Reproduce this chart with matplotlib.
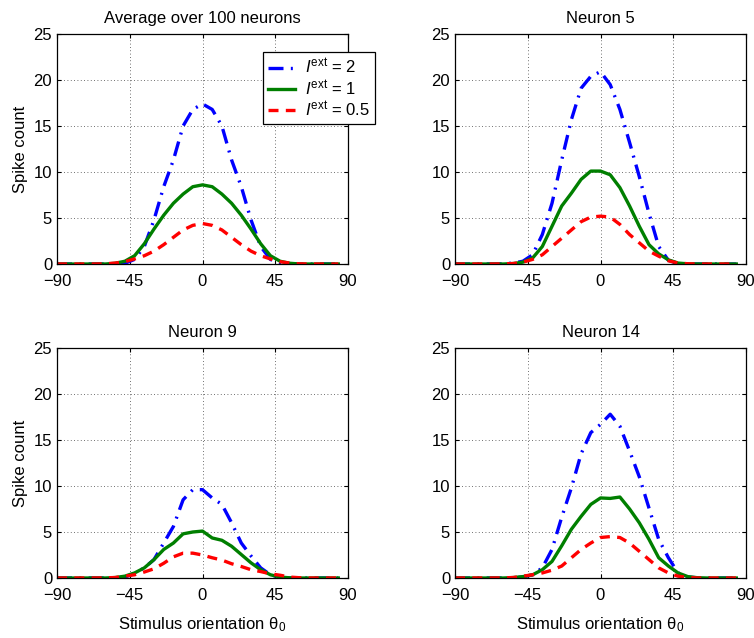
import numpy as np
import matplotlib
matplotlib.use("Agg")
import matplotlib.pyplot as plt

plt.rcParams['font.family'] = ['Liberation Sans', 'DejaVu Sans']
plt.rcParams['mathtext.fontset'] = 'custom'
plt.rcParams['mathtext.rm'] = 'Liberation Sans'
plt.rcParams['mathtext.it'] = 'Liberation Sans:italic'

# stimulus orientations, 6 deg steps
theta = list(range(-90, 90, 6))

titles = ["Average over 100 neurons", "Neuron 5", "Neuron 9", "Neuron 14"]
labels = [r'$I^{\mathrm{ext}}$ = 2', r'$I^{\mathrm{ext}}$ = 1', r'$I^{\mathrm{ext}}$ = 0.5']

#            -90 -84 -78 -72 -66 -60  -54   -48   -42  -36  -30  -24  -18   -12   -6    0     6     12    18    24   30   36   42    48    54   60   66 72 78 84
avg_i2   = [0, 0, 0, 0, 0, 0,    0.02, 0.08, 0.5, 1.9, 4.8, 8.4, 11.3, 15.0, 16.8, 17.4, 16.8, 15.0, 11.3, 8.4, 4.8, 1.9, 0.5,  0.08, 0.02, 0,   0, 0, 0, 0]
avg_i1   = [0, 0, 0, 0, 0, 0,    0.08, 0.3,  0.9, 2.2, 3.8, 5.3, 6.6,  7.6,  8.4,  8.6,  8.4,  7.6,  6.6,  5.3, 3.8, 2.2, 0.9,  0.3,  0.08, 0,   0, 0, 0, 0]
avg_i05  = [0, 0, 0, 0, 0, 0.02, 0.1,  0.25, 0.55, 0.9, 1.4, 2.1, 2.9, 3.7,  4.2,  4.4,  4.2,  3.7,  2.9,  2.1, 1.4, 0.9, 0.55, 0.25, 0.1,  0.02, 0, 0, 0, 0]

n5_i2    = [0, 0, 0, 0, 0, 0.02, 0.1,  0.3,  1.0, 3.2, 6.6, 11.3, 15.7, 19.1, 20.4, 20.9, 19.5, 16.8, 13.2, 9.5, 5.5, 1.9, 0.4, 0.05, 0, 0, 0, 0, 0, 0]
n5_i1    = [0, 0, 0, 0, 0, 0,    0.05, 0.2,  0.65, 1.9, 4.1, 6.3, 7.7, 9.2, 10.1, 10.1, 9.7, 8.3, 6.3, 4.1, 2.1, 1.1, 0.45, 0.1, 0.02, 0, 0, 0, 0, 0]
n5_i05   = [0, 0, 0, 0, 0, 0.02, 0.05, 0.2,  0.5, 1.0, 1.9, 2.8, 3.7, 4.6, 5.1, 5.2, 5.1, 4.3, 3.2, 2.3, 1.4, 0.85, 0.35, 0.1, 0.03, 0, 0, 0, 0, 0]

n9_i2    = [0, 0, 0, 0, 0, 0,    0.02, 0.1,  0.5, 1.1, 2.0, 3.8, 5.6, 8.5, 9.6, 9.6, 8.7, 8.0, 6.0, 3.8, 2.4, 1.1, 0.35, 0.05, 0, 0, 0, 0, 0, 0]
n9_i1    = [0, 0, 0, 0, 0, 0,    0.05, 0.2,  0.55, 1.1, 2.0, 3.1, 3.8, 4.8, 5.0, 5.1, 4.35, 4.1, 3.45, 2.55, 1.65, 0.9, 0.35, 0.1, 0.02, 0, 0, 0, 0, 0]
n9_i05   = [0, 0, 0, 0, 0, 0.02, 0.05, 0.2,  0.35, 0.65, 1.0, 1.6, 2.3, 2.7, 2.7, 2.5, 2.2, 1.95, 1.55, 1.25, 0.9, 0.7, 0.45, 0.3, 0.1, 0.03, 0, 0, 0, 0]

n14_i2   = [0, 0, 0, 0, 0, 0,    0.02, 0.1,  0.35, 1.1, 3.1, 6.6, 9.8, 13.5, 15.8, 16.7, 17.8, 16.5, 13.8, 11.0, 7.6, 4.2, 2.2, 0.55, 0.1, 0.02, 0, 0, 0, 0]
n14_i1   = [0, 0, 0, 0, 0, 0,    0.05, 0.15, 0.35, 0.9, 1.8, 3.5, 5.3, 6.7, 8.0, 8.7, 8.65, 8.8, 7.5, 6.0, 4.2, 2.2, 1.3, 0.55, 0.15, 0.03, 0, 0, 0, 0]
n14_i05  = [0, 0, 0, 0, 0, 0.02, 0.05, 0.2,  0.35, 0.55, 0.85, 1.3, 2.2, 3.1, 3.8, 4.4, 4.5, 4.4, 3.8, 2.9, 2.0, 1.1, 0.55, 0.2, 0.05, 0, 0, 0, 0, 0]

panels = [(avg_i2, avg_i1, avg_i05), (n5_i2, n5_i1, n5_i05),
          (n9_i2, n9_i1, n9_i05), (n14_i2, n14_i1, n14_i05)]

W, H = 754, 638
fig = plt.figure(figsize=(W / 100, H / 100), dpi=100)
boxes = [(57, 34), (455, 34), (57, 348), (455, 348)]
aw, ah = 291, 230
fs = 12

for k, (series, title, (px, py)) in enumerate(zip(panels, titles, boxes)):
    ax = fig.add_axes([px / W, 1 - (py + ah) / H, aw / W, ah / H])
    i2, i1, i05 = series
    ax.plot(theta, i2, color='#0000ff', lw=2.4, ls=(0, (4.5, 2.2, 0.6, 2.2)), label=labels[0])
    ax.plot(theta, i1, color='#007f00', lw=2.4, ls='-', label=labels[1])
    ax.plot(theta, i05, color='#ff0000', lw=2.4, ls=(0, (3.0, 2.2)), label=labels[2])
    ax.set_xlim(-90, 90)
    ax.set_ylim(0, 25)
    ax.set_xticks([-90, -45, 0, 45, 90])
    ax.set_xticklabels(['\u221290', '\u221245', '0', '45', '90'])
    ax.set_yticks([0, 5, 10, 15, 20, 25])
    ax.grid(True, ls=(0, (1, 3)), color='#404040', lw=0.6)
    ax.tick_params(direction='in', top=True, right=True, labelsize=fs, length=3)
    ax.tick_params(axis='x', pad=7)
    for sp in ax.spines.values():
        sp.set_linewidth(0.9)
    ax.set_title(title, fontsize=fs, pad=8)
    if k % 2 == 0:
        ax.set_ylabel('Spike count', fontsize=fs, labelpad=4)
    if k >= 2:
        ax.set_xlabel('Stimulus orientation \u03b8$_0$', fontsize=fs, labelpad=9)
    if k == 0:
        leg = ax.legend(loc='upper left', bbox_to_anchor=(0.708, 0.922), fontsize=fs,
                        fancybox=False, edgecolor='black', framealpha=1,
                        handlelength=1.6, handletextpad=0.6, borderpad=0.3,
                        labelspacing=0.1, borderaxespad=0)
        leg.get_frame().set_linewidth(0.9)
        leg.set_zorder(10)

fig.savefig('out.png', dpi=100)
